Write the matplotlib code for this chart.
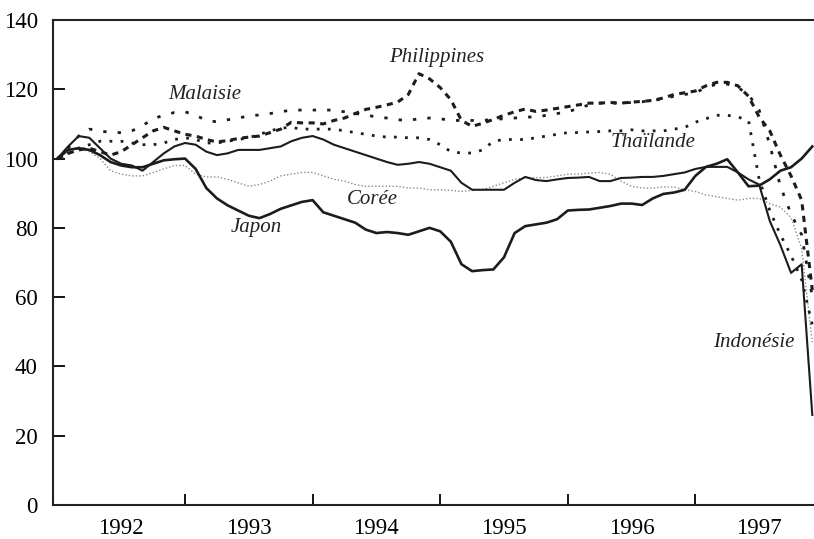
import numpy as np
import matplotlib
matplotlib.use('Agg')
import matplotlib.pyplot as plt

plt.rcParams['font.family'] = ['Liberation Serif', 'DejaVu Serif']

# indices mensuels, janvier 1992 = 100
mois = 1992 + np.arange(72) / 12.0

japon = [100, 102.5, 103, 102.5, 101, 99, 98, 97.5, 97.5, 98.5, 99.5, 99.8,
         100, 97, 91.5, 88.5, 86.5, 85, 83.5, 82.8, 84, 85.5, 86.5, 87.5,
         88, 84.5, 83.5, 82.5, 81.5, 79.5, 78.5, 78.8, 78.5, 78, 79, 80,
         79, 76, 69.5, 67.5, 67.8, 68, 71.5, 78.5, 80.5, 81, 81.5, 82.5,
         85, 85.2, 85.3, 85.8, 86.3, 87, 87, 86.6, 88.5, 89.8, 90.2, 91,
         95, 97.6, 98.5, 99.8, 96, 92, 92.2, 94, 96.5, 97.5, 100, 103.5]

indonesie = [100, 103.5, 106.5, 106, 103, 100, 98.5, 98, 96.5, 99, 101.5, 103.5,
             104.5, 104, 102, 101, 101.5, 102.5, 102.5, 102.5, 103, 103.5, 105, 106,
             106.5, 105.5, 104, 103, 102, 101, 100, 99, 98.2, 98.5, 99, 98.5,
             97.5, 96.5, 93, 91, 91, 91, 91, 93, 94.7, 93.8, 93.5, 94,
             94.4, 94.5, 94.7, 93.5, 93.5, 94.4, 94.5, 94.7, 94.7, 95, 95.5, 96,
             97, 97.6, 97.6, 97.6, 96, 94, 92.5, 82, 75, 67, 69.5, 26]

philippines = [100, 101.5, 102.5, 103, 102, 101, 102, 104, 106, 108, 109, 108,
               107, 106.5, 105.5, 104.8, 105.2, 105.8, 106.2, 106.5, 107.5, 108.5, 110.5, 110.3,
               110.3, 110, 111, 111.7, 113, 114.2, 114.8, 115.5, 116.3, 118.5, 124.5, 123,
               120.5, 117, 111, 109.3, 110.2, 111.3, 112.5, 113.5, 114.3, 113.6, 114, 114.5,
               115, 115.5, 116, 116, 116.2, 116, 116.3, 116.5, 116.8, 117.5, 118.5, 119,
               119.5, 121, 122, 122, 121, 118, 112, 108, 101, 95, 88, 62]

malaisie = [100, 103, 106.5, 108.5, 108, 107.5, 107.5, 108, 109.5, 111.5, 112.5, 113.3,
            113.5, 112.5, 111, 110.6, 111.2, 111.7, 112.3, 112.6, 113, 113.5, 114, 114,
            114, 114, 114, 113.5, 113, 112.6, 112, 111.7, 111.2, 111, 111.5, 111.7,
            111.5, 111, 111, 111, 111, 111.3, 111.5, 111.7, 112, 112, 112.5, 113,
            113.5, 114.5, 115.5, 116, 116, 116, 116.2, 116.4, 116.8, 117.2, 118, 118.5,
            119, 120.5, 121.5, 121.5, 120.5, 118.5, 114, 104, 92, 84, 78, 60]

thailande = [100, 101.5, 103, 104, 105, 105, 105, 104.5, 104, 104, 104.5, 105.5,
             106, 105.5, 104.5, 104.5, 105, 105.5, 106, 107, 108, 108.8, 109, 108.5,
             108.5, 108.5, 108.5, 108, 107.5, 107, 106.5, 106.2, 106.2, 106, 106, 105.5,
             104, 102, 101.6, 101.6, 102.5, 105, 105.5, 105.5, 105.5, 106, 106.5, 107,
             107.5, 107.5, 107.7, 107.8, 108, 108, 108.3, 108, 108, 108, 108.5, 109,
             110.5, 111.5, 112.5, 112.5, 112, 111, 94, 85, 78, 72, 65, 52]

coree = [100, 102.5, 103, 102, 100, 96.5, 95.5, 95, 95, 96, 97, 98,
         98, 95.5, 94.7, 94.7, 94, 93, 92, 92.5, 93.5, 95, 95.5, 96,
         96, 95, 94, 93.5, 92.5, 92, 92, 92, 92, 91.5, 91.5, 91,
         91, 90.8, 90.5, 90.8, 91, 92, 93, 94, 94.5, 94.5, 94.5, 95,
         95.5, 95.5, 95.8, 96, 95.5, 93.5, 92, 91.5, 91.5, 91.8, 91.8, 91,
         90.5, 89.5, 89, 88.5, 88, 88.5, 88.5, 87, 86, 83, 74, 47]

annees = [1992, 1993, 1994, 1995, 1996, 1997]

fig = plt.figure(figsize=(8.14, 5.39), dpi=100)
ax = fig.add_axes([53 / 814, 34 / 539, 761 / 814, 485 / 539])

noir = '#1c1c1c'
ax.plot(mois, coree, color='#8a8a8a', lw=1.0, ls=(0, (1, 1.5)))
ax.plot(mois, thailande, color=noir, lw=2.0, ls=(0, (1, 3)))
ax.plot(mois, malaisie, color=noir, lw=2.0, ls=(0, (1.2, 4)))
ax.plot(mois, philippines, color=noir, lw=2.2, ls=(0, (2, 1.8)))
ax.plot(mois, indonesie, color=noir, lw=1.5)
ax.plot(mois, japon, color=noir, lw=1.9)

etiq = dict(fontsize=15, style='italic', color='#222222', ha='center', va='center')
ax.text(1994.975, 129.3, 'Philippines', **etiq)
ax.text(1993.157, 118.4, 'Malaisie', **etiq)
ax.text(1996.667, 104.5, 'Thaïlande', **etiq)
ax.text(1994.47, 88.3, 'Corée', **etiq)
ax.text(1993.556, 80, 'Japon', **etiq)
ax.text(1997.46, 46.8, 'Indonésie', **etiq)

ax.set_xlim(1991.965, 1997.93)
ax.set_ylim(0, 140)
ax.set_yticks(range(0, 141, 20))
ax.set_xticks([a for a in annees[1:]])
ax.set_xticklabels([])
ax.set_xticks([a + 0.5 for a in annees], minor=True)
ax.set_xticklabels([str(a) for a in annees], minor=True)

ax.tick_params(axis='x', which='major', direction='in', length=8, width=1.3)
ax.tick_params(axis='x', which='minor', length=0, pad=9, labelsize=16.5)
ax.tick_params(axis='y', direction='in', length=8.5, width=1.3, pad=11, labelsize=16.5)

ax.spines['right'].set_visible(False)
for s in ['left', 'bottom', 'top']:
    ax.spines[s].set_linewidth(1.5)
    ax.spines[s].set_color('#222222')

fig.savefig('out.png', dpi=100)
